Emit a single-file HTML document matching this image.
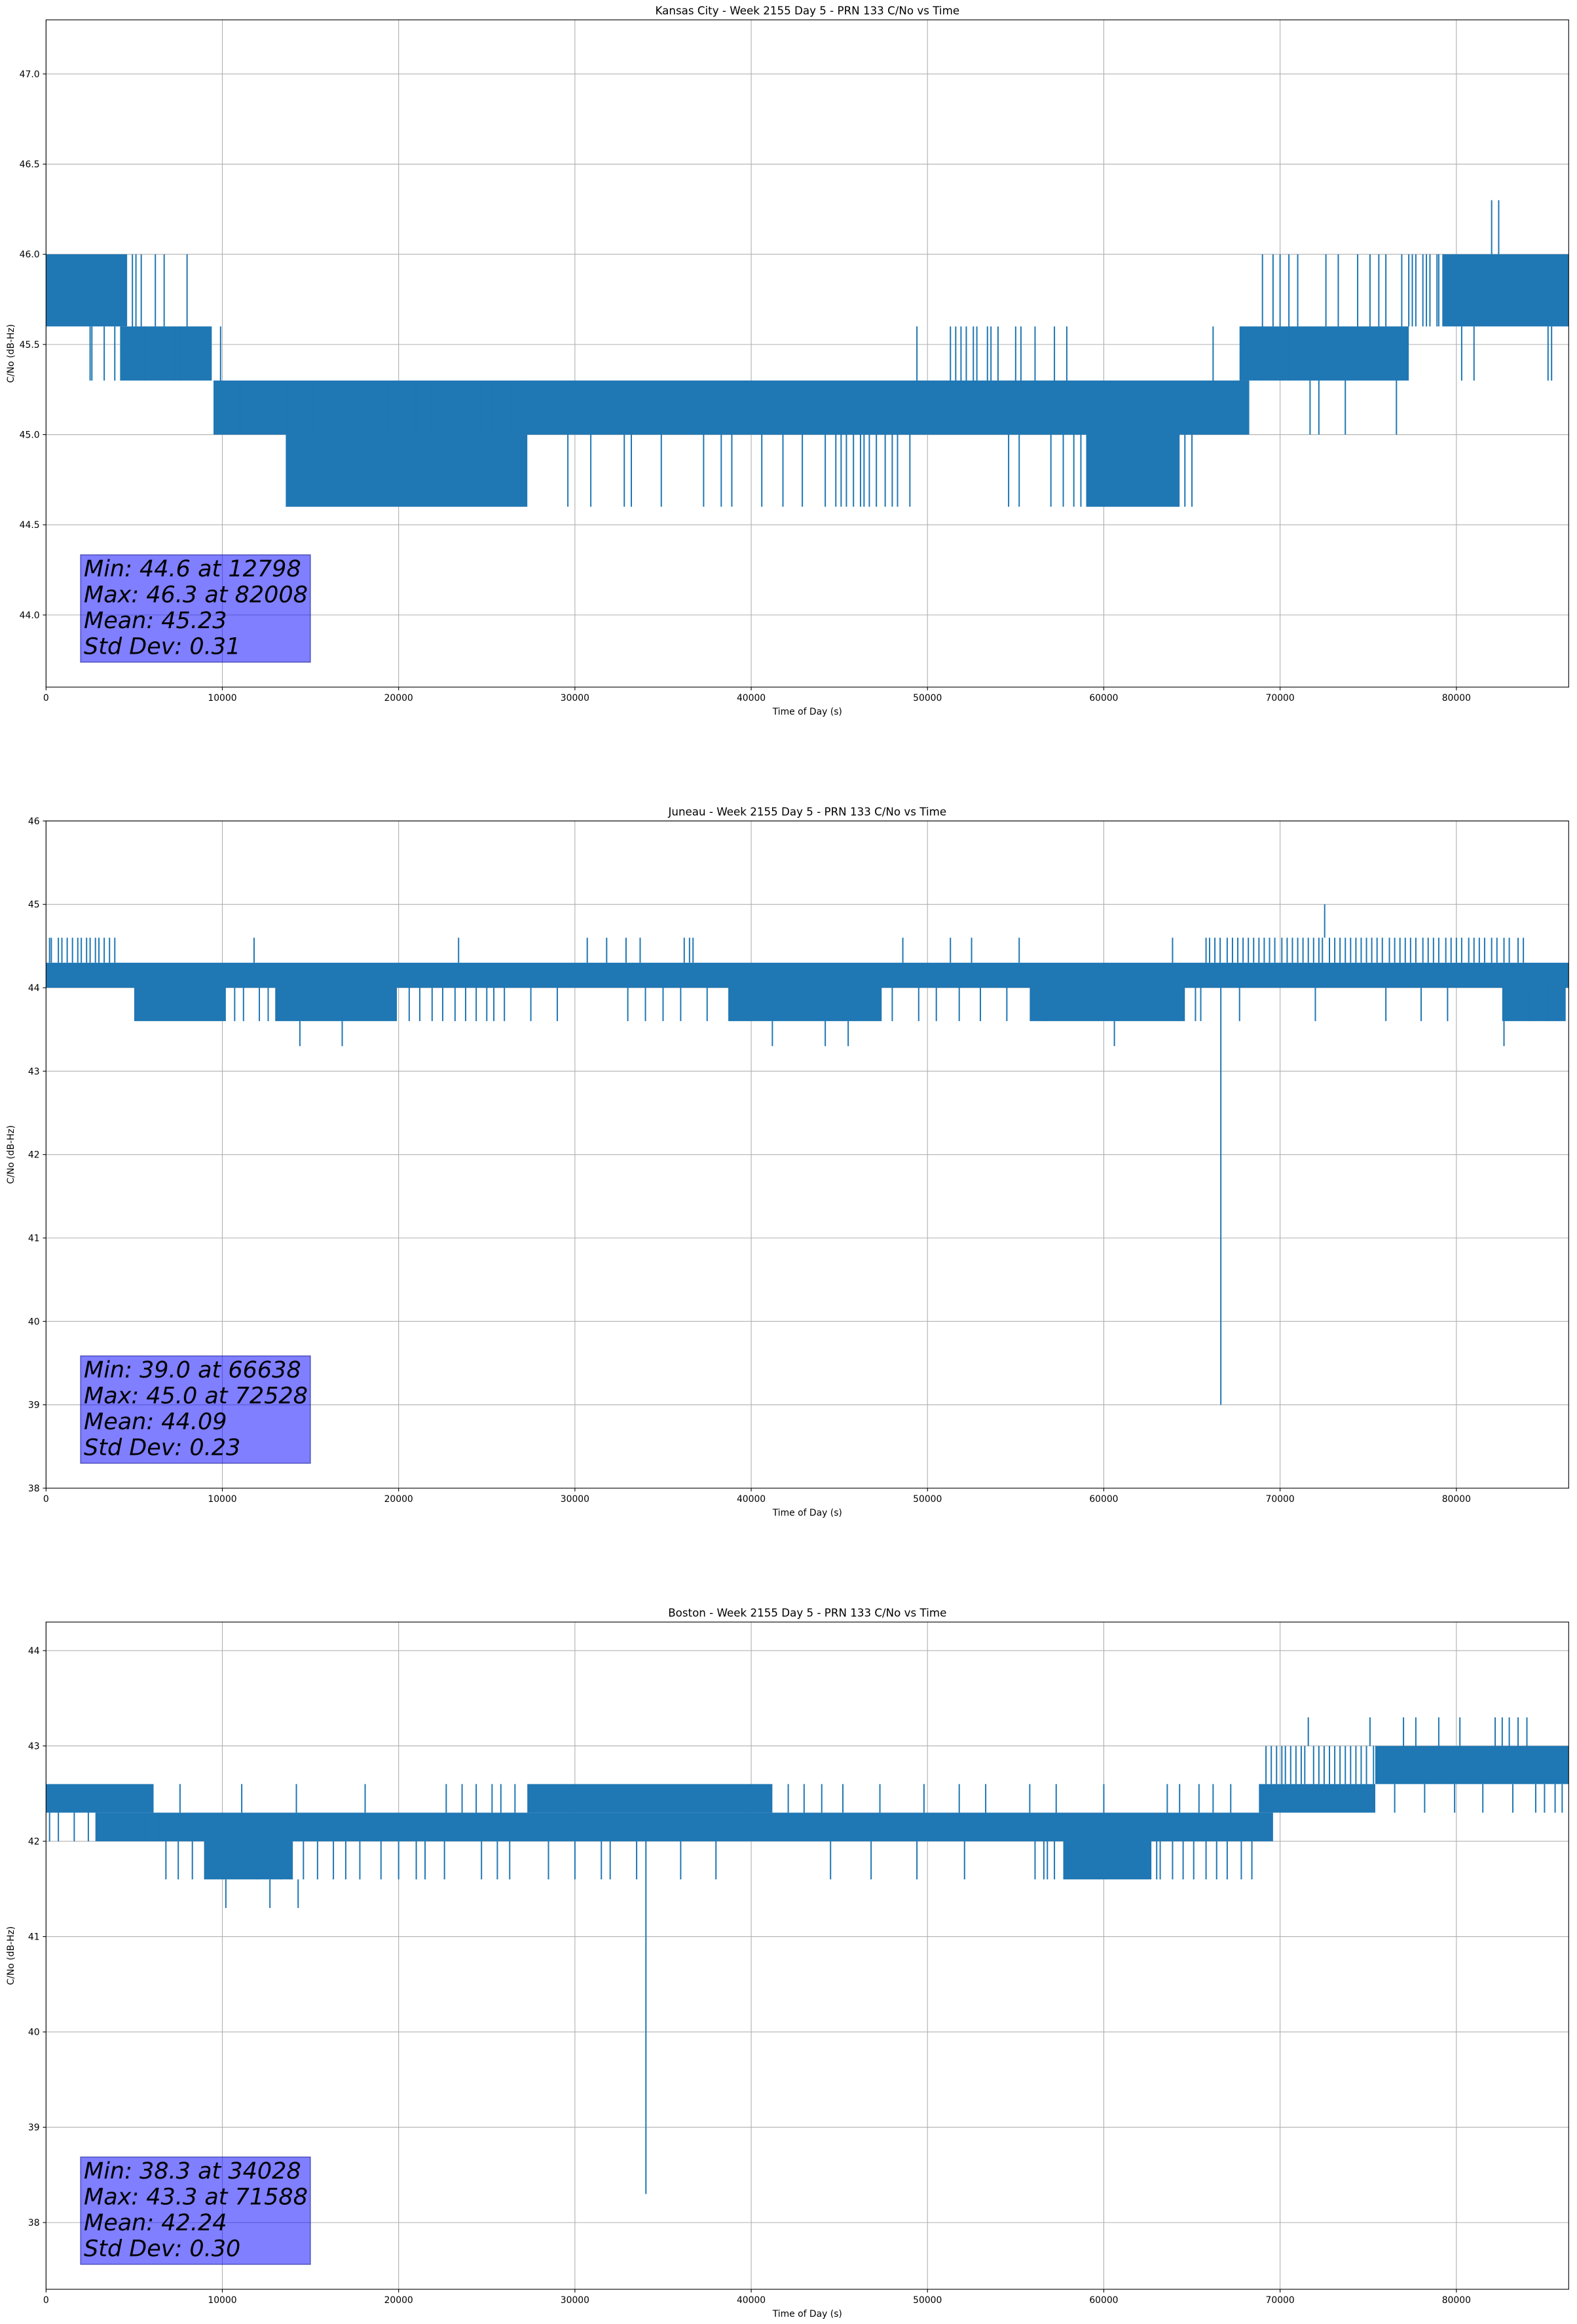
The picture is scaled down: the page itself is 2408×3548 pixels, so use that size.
<!DOCTYPE html>
<html><head><meta charset="utf-8">
<style>
html,body{margin:0;padding:0;background:#fff;}
svg{display:block;font-family:"DejaVu Sans","Liberation Sans",sans-serif;}
</style></head>
<body>
<svg id="fig" width="2408" height="3548" viewBox="0 0 2408 3548" xmlns="http://www.w3.org/2000/svg">
<rect width="2408" height="3548" fill="#fff"/>
</svg>
<script>
// ---------- shared ----------
const xTicks = [0,10000,20000,30000,40000,50000,60000,70000,80000];
const xMin = 0, xMax = 86370;

// ---------- Kansas City ----------
const kcTitle = "Kansas City - Week 2155 Day 5 - PRN 133 C/No vs Time";
const kcYTicks = [44.0,44.5,45.0,45.5,46.0,46.5,47.0];
const kcYRange = [43.6,47.3];
const kcBandStart = [0,4200,9500,13600,27000,59000,67700,79200];
const kcBandEnd   = [4600,9400,68250,27300,68250,64300,77300,86370];
const kcBandLow   = [45.6,45.3,45.0,44.6,45.0,44.6,45.3,45.6];
const kcBandHigh  = [46.0,45.6,45.3,45.0,45.3,45.0,45.6,46.0];
const kcSpikeT  = [5400,6200,6700,8000,9900,2500,2600,12800,13600,14300,16200,17400,18800,19400,20400,22600,23100,23900,24600,25300,25700,26300,32800,33200,34900,38300,38900,40600,
  44800,45100,45400,45800,46200,46400,46700,47100,47600,48000,48300,49000,54600,55200,57000,57700,
  49400,51300,51600,51900,52200,52600,52800,53400,53600,54000,55000,55300,56100,57200,57900,66200,
  74400,76000,76900,77300,77700,78100,78500,78900,82000,82400,80300,81000,85200,85400,71700,72200,73700,76600,69000,70500,
  4900,5100,5600,7300,7600,8600,10400,11000,11600,12000,15200,21000,21800,26800,29600,30900,37300,41800,42900,44200,
  58300,58700,64600,65000,69600,70000,71000,72600,73300,75100,75600,77500,78300,79000,3300,3900];
const kcSpikeLo = [45.6,45.6,45.6,45.6,45.3,45.3,45.3,45.0,45.0,45.0,45.0,45.0,45.0,45.0,45.0,45.0,45.0,45.0,45.0,45.0,45.0,45.0,44.6,44.6,44.6,44.6,44.6,44.6,
  44.6,44.6,44.6,44.6,44.6,44.6,44.6,44.6,44.6,44.6,44.6,44.6,44.6,44.6,44.6,44.6,
  45.3,45.3,45.3,45.3,45.3,45.3,45.3,45.3,45.3,45.3,45.3,45.3,45.3,45.3,45.3,45.3,
  45.6,45.6,45.6,45.6,45.6,45.6,45.6,45.6,46.0,46.0,45.3,45.3,45.3,45.3,45.0,45.0,45.0,45.0,45.3,45.3,
  45.6,45.6,45.3,45.3,45.3,45.3,45.0,45.0,45.0,45.0,45.0,45.0,45.0,45.0,44.6,44.6,44.6,44.6,44.6,44.6,
  44.6,44.6,44.6,44.6,45.6,45.6,45.6,45.6,45.6,45.6,45.6,45.6,45.6,45.6,45.3,45.3];
const kcSpikeHi = [46.0,46.0,46.0,46.0,45.6,45.6,45.6,45.3,45.3,45.3,45.3,45.3,45.3,45.3,45.3,45.3,45.3,45.3,45.3,45.3,45.3,45.3,45.0,45.0,45.0,45.0,45.0,45.0,
  45.0,45.0,45.0,45.0,45.0,45.0,45.0,45.0,45.0,45.0,45.0,45.0,45.0,45.0,45.0,45.0,
  45.6,45.6,45.6,45.6,45.6,45.6,45.6,45.6,45.6,45.6,45.6,45.6,45.6,45.6,45.6,45.6,
  46.0,46.0,46.0,46.0,46.0,46.0,46.0,46.0,46.3,46.3,45.6,45.6,45.6,45.6,45.3,45.3,45.3,45.3,46.0,46.0,
  46.0,46.0,45.6,45.6,45.6,45.6,45.3,45.3,45.3,45.3,45.3,45.3,45.3,45.3,45.0,45.0,45.0,45.0,45.0,45.0,
  45.0,45.0,45.0,45.0,46.0,46.0,46.0,46.0,46.0,46.0,46.0,46.0,46.0,46.0,45.6,45.6];
const kcStats = ["Min: 44.6 at 12798","Max: 46.3 at 82008","Mean: 45.23","Std Dev: 0.31"];

// ---------- Juneau ----------
const jnTitle = "Juneau - Week 2155 Day 5 - PRN 133 C/No vs Time";
const jnYTicks = [38,39,40,41,42,43,44,45,46];
const jnYRange = [38,46];
const jnBandStart = [0,5000,13000,38700,55800,82600];
const jnBandEnd   = [86370,10200,19900,47400,64600,86200];
const jnBandLow   = [44.0,43.6,43.6,43.6,43.6,43.6];
const jnBandHigh  = [44.3,44.0,44.0,44.0,44.0,44.0];
const jnSpikeT  = [300,900,1500,2000,2500,3000,3600,3900,11800,23400,30700,31800,32900,33700,36200,36500,36700,48600,51300,52500,55200,63900,
  65800,66300,67000,67600,68200,68800,69400,70100,70700,71300,71900,72400,73100,73700,74300,74900,75500,76200,76800,77400,78100,78700,79400,80000,80700,81300,82000,82700,83500,
  14400,16800,41200,44200,45500,60600,82700,66638,72528,
  20600,21200,21900,22500,23200,23800,24400,25000,25400,33000,34000,35000,49500,53000,54500,65200,72000,76000,78000,79500,
  66000,66600,67300,67900,68500,69100,69700,70400,71000,71600,72200,72800,73400,74000,74600,75200,75800,76500,77100,77700,78400,79000,79700,80300,81000,81600,82300,83000,83800,
  200,700,1200,1800,2300,2800,3300,10700,11200,12100,12600,26000,27500,29000,36000,37500,48000,50500,51800,56700,65500,67700,84200,85200,85800];
const jnSpikeLo = [44.3,44.3,44.3,44.3,44.3,44.3,44.3,44.3,44.3,44.3,44.3,44.3,44.3,44.3,44.3,44.3,44.3,44.3,44.3,44.3,44.3,44.3,
  44.3,44.3,44.3,44.3,44.3,44.3,44.3,44.3,44.3,44.3,44.3,44.3,44.3,44.3,44.3,44.3,44.3,44.3,44.3,44.3,44.3,44.3,44.3,44.3,44.3,44.3,44.3,44.3,44.3,
  43.3,43.3,43.3,43.3,43.3,43.3,43.3,39.0,44.6,
  43.6,43.6,43.6,43.6,43.6,43.6,43.6,43.6,43.6,43.6,43.6,43.6,43.6,43.6,43.6,43.6,43.6,43.6,43.6,43.6,
  44.3,44.3,44.3,44.3,44.3,44.3,44.3,44.3,44.3,44.3,44.3,44.3,44.3,44.3,44.3,44.3,44.3,44.3,44.3,44.3,44.3,44.3,44.3,44.3,44.3,44.3,44.3,44.3,44.3,
  44.3,44.3,44.3,44.3,44.3,44.3,44.3,43.6,43.6,43.6,43.6,43.6,43.6,43.6,43.6,43.6,43.6,43.6,43.6,43.6,43.6,43.6,43.6,43.6,43.6];
const jnSpikeHi = [44.6,44.6,44.6,44.6,44.6,44.6,44.6,44.6,44.6,44.6,44.6,44.6,44.6,44.6,44.6,44.6,44.6,44.6,44.6,44.6,44.6,44.6,
  44.6,44.6,44.6,44.6,44.6,44.6,44.6,44.6,44.6,44.6,44.6,44.6,44.6,44.6,44.6,44.6,44.6,44.6,44.6,44.6,44.6,44.6,44.6,44.6,44.6,44.6,44.6,44.6,44.6,
  43.6,43.6,43.6,43.6,43.6,43.6,43.6,44.0,45.0,
  44.0,44.0,44.0,44.0,44.0,44.0,44.0,44.0,44.0,44.0,44.0,44.0,44.0,44.0,44.0,44.0,44.0,44.0,44.0,44.0,
  44.6,44.6,44.6,44.6,44.6,44.6,44.6,44.6,44.6,44.6,44.6,44.6,44.6,44.6,44.6,44.6,44.6,44.6,44.6,44.6,44.6,44.6,44.6,44.6,44.6,44.6,44.6,44.6,44.6,
  44.6,44.6,44.6,44.6,44.6,44.6,44.6,44.0,44.0,44.0,44.0,44.0,44.0,44.0,44.0,44.0,44.0,44.0,44.0,44.0,44.0,44.0,44.0,44.0,44.0];
const jnStats = ["Min: 39.0 at 66638","Max: 45.0 at 72528","Mean: 44.09","Std Dev: 0.23"];

// ---------- Boston ----------
const bsTitle = "Boston - Week 2155 Day 5 - PRN 133 C/No vs Time";
const bsYTicks = [38,39,40,41,42,43,44];
const bsYRange = [37.3,44.3];
const bsBandStart = [0,2800,27300,57700,68800,75400,9000];
const bsBandEnd   = [6100,69600,41200,62700,75400,86370,14000];
const bsBandLow   = [42.3,42.0,42.3,41.6,42.3,42.6,41.6];
const bsBandHigh  = [42.6,42.3,42.6,42.0,42.6,43.0,42.0];
const bsSpikeT  = [10200,12700,14300,34028,
  7500,8300,14600,15400,16300,17000,17800,20000,21500,22600,24700,25600,26300,32000,33500,44500,46800,49400,52100,56100,56600,63200,63900,64500,65100,65800,66400,67000,67800,68400,
  7600,11100,14200,18100,22700,23600,24400,25300,25800,26600,42100,43000,44000,45200,47300,49800,51800,53300,55800,57300,60000,63600,64300,65400,66200,67200,
  69200,69800,70300,70900,71900,72500,73100,73700,74300,74900,
  71600,75100,77700,80200,82200,82600,83000,83500,84000,
  76500,78200,79900,81500,83200,85000,
  69500,70100,70600,71200,71400,72200,72800,73400,74000,74600,75300,
  200,700,1600,2400,5600,6400,6800,9000,12000,13300,56800,57200,63000,19000,21000,28500,30000,31500,36000,38000,
  84500,85600,86000,77000,79000];
const bsSpikeLo = [41.3,41.3,41.3,38.3,
  41.6,41.6,41.6,41.6,41.6,41.6,41.6,41.6,41.6,41.6,41.6,41.6,41.6,41.6,41.6,41.6,41.6,41.6,41.6,41.6,41.6,41.6,41.6,41.6,41.6,41.6,41.6,41.6,41.6,41.6,
  42.3,42.3,42.3,42.3,42.3,42.3,42.3,42.3,42.3,42.3,42.3,42.3,42.3,42.3,42.3,42.3,42.3,42.3,42.3,42.3,42.3,42.3,42.3,42.3,42.3,42.3,
  42.6,42.6,42.6,42.6,42.6,42.6,42.6,42.6,42.6,42.6,
  43.0,43.0,43.0,43.0,43.0,43.0,43.0,43.0,43.0,
  42.3,42.3,42.3,42.3,42.3,42.3,
  42.6,42.6,42.6,42.6,42.6,42.6,42.6,42.6,42.6,42.6,42.6,
  42.0,42.0,42.0,42.0,42.0,42.0,41.6,41.6,41.6,41.6,41.6,41.6,41.6,41.6,41.6,41.6,41.6,41.6,41.6,41.6,
  42.3,42.3,42.3,43.0,43.0];
const bsSpikeHi = [41.6,41.6,41.6,42.0,
  42.0,42.0,42.0,42.0,42.0,42.0,42.0,42.0,42.0,42.0,42.0,42.0,42.0,42.0,42.0,42.0,42.0,42.0,42.0,42.0,42.0,42.0,42.0,42.0,42.0,42.0,42.0,42.0,42.0,42.0,
  42.6,42.6,42.6,42.6,42.6,42.6,42.6,42.6,42.6,42.6,42.6,42.6,42.6,42.6,42.6,42.6,42.6,42.6,42.6,42.6,42.6,42.6,42.6,42.6,42.6,42.6,
  43.0,43.0,43.0,43.0,43.0,43.0,43.0,43.0,43.0,43.0,
  43.3,43.3,43.3,43.3,43.3,43.3,43.3,43.3,43.3,
  42.6,42.6,42.6,42.6,42.6,42.6,
  43.0,43.0,43.0,43.0,43.0,43.0,43.0,43.0,43.0,43.0,43.0,
  42.3,42.3,42.3,42.3,42.3,42.3,42.0,42.0,42.0,42.0,42.0,42.0,42.0,42.0,42.0,42.0,42.0,42.0,42.0,42.0,
  42.6,42.6,42.6,43.3,43.3];
const bsStats = ["Min: 38.3 at 34028","Max: 43.3 at 71588","Mean: 42.24","Std Dev: 0.30"];

const NS = "http://www.w3.org/2000/svg";
const fig = document.getElementById('fig');
function mk(tag, attrs, parent){
  const e = document.createElementNS(NS, tag);
  for (const k in attrs) e.setAttribute(k, attrs[k]);
  (parent||fig).appendChild(e);
  return e;
}
const AX_L = 70.3, AX_W = 2325, AX_H = 1018.7;
const COLOR = "#1f77b4";

function drawPlot(key, top, title, yTicks, yRange, bS, bE, bL, bH, sT, sL, sH, stats, decimals){
  const g = mk('g', {});
  
  
  const sx = v => AX_L + (v - xMin) / (xMax - xMin) * AX_W;
  const sy = v => top + AX_H - (v - yRange[0]) / (yRange[1] - yRange[0]) * AX_H;
  xTicks.forEach(t => {
    const l = mk('line', {x1:sx(t), x2:sx(t), y1:top, y2:top+AX_H, stroke:'#b0b0b0','stroke-width':1.1}, g);
    
    
  });
  yTicks.forEach(t => {
    const l = mk('line', {x1:AX_L, x2:AX_L+AX_W, y1:sy(t), y2:sy(t), stroke:'#b0b0b0','stroke-width':1.1}, g);
    
    
  });
  const cid = 'clip-' + key;
  const cp = mk('clipPath', {id:cid}, g);
  mk('rect', {x:AX_L, y:top, width:AX_W, height:AX_H}, cp);
  const dg = mk('g', {'clip-path':'url(#'+cid+')'}, g);
  
  
  for (let i=0;i<bS.length;i++){
    const r = mk('rect', {x:sx(bS[i]), y:sy(bH[i]), width:Math.max(1, sx(bE[i])-sx(bS[i])), height:sy(bL[i])-sy(bH[i]), fill:COLOR}, dg);
    
    
  }
  for (let i=0;i<sT.length;i++){
    const l = mk('line', {x1:sx(sT[i]), x2:sx(sT[i]), y1:sy(sL[i]), y2:sy(sH[i]), stroke:COLOR, 'stroke-width':2}, dg);
    
    
  }
  const fr = mk('rect', {x:AX_L, y:top, width:AX_W, height:AX_H, fill:'none', stroke:'#000', 'stroke-width':1.1}, g);
  
  
  xTicks.forEach(t => {
    mk('line', {x1:sx(t), x2:sx(t), y1:top+AX_H, y2:top+AX_H+4.9, stroke:'#000','stroke-width':1.1}, g);
    const tx = mk('text', {x:sx(t), y:top+AX_H+21, 'font-size':13.9, 'text-anchor':'middle', fill:'#000'}, g);
    tx.textContent = String(t);
    
    
  });
  yTicks.forEach(t => {
    mk('line', {x1:AX_L-4.9, x2:AX_L, y1:sy(t), y2:sy(t), stroke:'#000','stroke-width':1.1}, g);
    const tx = mk('text', {x:AX_L-9.7, y:sy(t)+5, 'font-size':13.9, 'text-anchor':'end', fill:'#000'}, g);
    tx.textContent = t.toFixed(decimals);
    
    
  });
  const ti = mk('text', {x:AX_L+AX_W/2, y:top-8.3, 'font-size':16.7, 'text-anchor':'middle', fill:'#000'}, g);
  ti.textContent = title;
  
  
  const xl = mk('text', {x:AX_L+AX_W/2, y:top+AX_H+42, 'font-size':13.9, 'text-anchor':'middle', fill:'#000'}, g);
  xl.textContent = "Time of Day (s)";
  
  
  const cy = top + AX_H/2;
  const yl = mk('text', {x:21, y:cy, 'font-size':13.9, 'text-anchor':'middle', fill:'#000', transform:'rotate(-90 21 '+cy+')'}, g);
  yl.textContent = "C/No (dB-Hz)";
  
  
  const bx = 123, bBottom = top + AX_H - 38, bHeight = 164, bWidth = 351;
  const sb = mk('rect', {x:bx, y:bBottom-bHeight, width:bWidth, height:bHeight, fill:'rgba(0,0,255,0.5)', stroke:'rgba(0,0,128,0.5)', 'stroke-width':1.5}, g);
  
  
  stats.forEach((s, i) => {
    const tx = mk('text', {x:bx+5, y:bBottom-bHeight+33+i*39.5, 'font-size':35, 'font-style':'italic', fill:'#000'}, g);
    tx.textContent = s;
    
    
  });
}

drawPlot('kansas-city', 30.3, kcTitle, kcYTicks, kcYRange, kcBandStart, kcBandEnd, kcBandLow, kcBandHigh, kcSpikeT, kcSpikeLo, kcSpikeHi, kcStats, 1);
drawPlot('juneau', 1253.3, jnTitle, jnYTicks, jnYRange, jnBandStart, jnBandEnd, jnBandLow, jnBandHigh, jnSpikeT, jnSpikeLo, jnSpikeHi, jnStats, 0);
drawPlot('boston', 2476.3, bsTitle, bsYTicks, bsYRange, bsBandStart, bsBandEnd, bsBandLow, bsBandHigh, bsSpikeT, bsSpikeLo, bsSpikeHi, bsStats, 0);
</script>
</body></html>
